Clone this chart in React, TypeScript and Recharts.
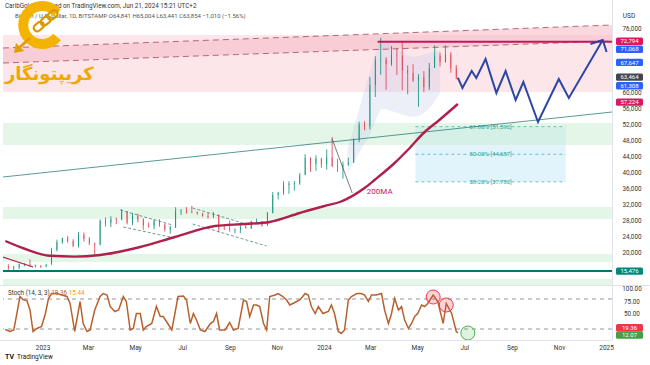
import React from 'react';
import {
  ComposedChart, Bar, Line, Area, XAxis, YAxis,
  ReferenceArea, ReferenceLine, ReferenceDot,
} from 'recharts';

const DAY0 = Date.parse('2023-01-01');
const toDay = (s: string) => Math.round((Date.parse(s) - DAY0) / 86400000);

// weekly BTC candles (week start)
const weeks = [
  '2022-11-14', '2022-11-21', '2022-11-28', '2022-12-05', '2022-12-12', '2022-12-19', '2022-12-26',
  '2023-01-02', '2023-01-09', '2023-01-16', '2023-01-23', '2023-01-30',
  '2023-02-06', '2023-02-13', '2023-02-20', '2023-02-27',
  '2023-03-06', '2023-03-13', '2023-03-20', '2023-03-27',
  '2023-04-03', '2023-04-10', '2023-04-17', '2023-04-24',
  '2023-05-01', '2023-05-08', '2023-05-15', '2023-05-22', '2023-05-29',
  '2023-06-05', '2023-06-12', '2023-06-19', '2023-06-26',
  '2023-07-03', '2023-07-10', '2023-07-17', '2023-07-24', '2023-07-31',
  '2023-08-07', '2023-08-14', '2023-08-21', '2023-08-28',
  '2023-09-04', '2023-09-11', '2023-09-18', '2023-09-25',
  '2023-10-02', '2023-10-09', '2023-10-16', '2023-10-23', '2023-10-30',
  '2023-11-06', '2023-11-13', '2023-11-20', '2023-11-27',
  '2023-12-04', '2023-12-11', '2023-12-18', '2023-12-25',
  '2024-01-01', '2024-01-08', '2024-01-15', '2024-01-22', '2024-01-29',
  '2024-02-05', '2024-02-12', '2024-02-19', '2024-02-26',
  '2024-03-04', '2024-03-11', '2024-03-18', '2024-03-25',
  '2024-04-01', '2024-04-08', '2024-04-15', '2024-04-22', '2024-04-29',
  '2024-05-06', '2024-05-13', '2024-05-20', '2024-05-27',
  '2024-06-03', '2024-06-10', '2024-06-17',
];
const firstOpen = 16600;
const closes = [
  16300, 16450, 17100, 17100, 16800, 16850, 16600,
  17100, 20800, 22700, 23750, 23000,
  21800, 24600, 23500, 22400,
  22100, 28000, 27500, 28500,
  28300, 30300, 27600, 29250,
  28400, 26900, 26750, 28050, 27100,
  25850, 26350, 30500, 30600,
  30300, 30250, 29900, 29250, 29050,
  29400, 26100, 26000, 25850,
  25850, 26550, 26250, 27950,
  27950, 26900, 30000, 34500, 35000,
  37050, 37350, 37450, 39450,
  43800, 42250, 43700, 42150,
  43900, 41700, 41600, 42050, 42600,
  48300, 52100, 51700, 62000,
  68300, 68400, 67200, 69650,
  69400, 65700, 64950, 63100, 63950,
  61500, 66250, 69300, 67750,
  69650, 66200, 63850,
];
const highs = [
  17200, 16800, 17350, 17450, 18400, 17100, 16950,
  17200, 21300, 23350, 23800, 24250,
  23450, 25250, 25100, 24000,
  22600, 28450, 28900, 29200,
  28800, 30950, 30500, 30000,
  29850, 28650, 27650, 28450, 28450,
  27400, 26800, 31450, 31000,
  31500, 31800, 30350, 30050, 29950,
  30250, 29700, 26800, 28150,
  26150, 26950, 27500, 28050,
  28600, 28000, 30250, 35250, 35300,
  37950, 37950, 38000, 40000,
  44750, 43900, 44450, 43800,
  45900, 49000, 43600, 42850, 43850,
  48600, 52850, 52950, 64000,
  69200, 73800, 68950, 71750,
  71300, 72800, 66900, 67200, 64750,
  65500, 67500, 71950, 70050,
  71950, 70200, 67000,
];
const lows = [
  15800, 15480, 16000, 16700, 16550, 16350, 16300,
  16500, 17100, 20400, 22300, 22550,
  21450, 21400, 22800, 21950,
  19550, 21900, 26600, 26500,
  27200, 28150, 27150, 26950,
  27650, 25800, 26350, 25900, 26550,
  25350, 24800, 26250, 29500,
  29800, 29950, 29550, 29050, 28600,
  28750, 25150, 25800, 25350,
  24900, 24950, 26050, 26000,
  27250, 26550, 26800, 29900, 33400,
  34550, 34800, 35600, 37050,
  39500, 40250, 40550, 41300,
  40800, 41500, 40300, 38550, 41850,
  42550, 47700, 50650, 50900,
  59000, 64550, 60800, 66800,
  64500, 60700, 59650, 62800, 56550,
  60200, 60750, 66300, 66650,
  67600, 65050, 63400,
];

// 200-day moving average (day offset from 2023-01-01)
const maDays = [-49, -23, 9, 41, 74, 126, 171, 223, 262, 294, 333, 365, 385, 417, 430, 456, 473, 495, 514, 538];
const maValues = [23000, 21000, 19300, 19100, 19500, 21500, 24000, 26750, 27250, 27750, 30000, 31750, 32750, 36250, 38250, 42500, 45750, 50250, 53250, 57250];

// projected path
const projDays = [538, 544, 556, 562, 574, 588, 600, 613, 623, 642, 669, 682, 726];
const projValues = [63850, 61250, 65500, 63750, 68500, 60000, 65500, 58250, 62750, 52750, 63500, 58750, 73250];
const arrowDays = [710, 726, 731];
const arrowValues = [72250, 73250, 70250];

// light blue shading behind the 2024 rally
const glowDays = [395, 410, 425, 440, 460, 480, 500, 515];
const glowLow = [40000, 45000, 50000, 56000, 55000, 54000, 56000, 60000];
const glowHigh = [46000, 56000, 66000, 73000, 71000, 69000, 70000, 70500];

// drawn lines
const edgeDays = [-52, 738];
const channelLow = [67500, 73000];
const channelHigh = [71250, 77000];
const trendValues = [39000, 55250];
const resistDays = [434, 738];
const resistValue = 72794;
const supportValue = 15476;
const oldLineDays = [-52, -13];
const oldLineValues = [19000, 16500];
const flagA = { days: [100, 168], top: [30750, 27000], lowDays: [104, 165], bottom: [26500, 24000] };
const flagB = { days: [194, 259], top: [31250, 27500], lowDays: [194, 290], bottom: [27250, 21750] };
const wedgeDays = [375, 401];
const wedgeValues = [48500, 35000];

// zones
const pinkZone = [60250, 74500];
const greenZones = [[47000, 52500], [28500, 31500], [17750, 19750], [12000, 13500]];
const fibDays = [483, 678];
const fibLevels = [51592, 44687, 37782];
const fibNames = ['61.80%', '50.00%', '38.20%'];

// axis ticks
const priceTicks = [76000, 60000, 56000, 52000, 48000, 44000, 40000, 36000, 32000, 28000, 24000, 20000];
const tagValues = [72794, 71068, 67647, 63464, 61308, 57224, 15476];
const tickDates = ['2023-01-01', '2023-03-01', '2023-05-01', '2023-07-01', '2023-09-01', '2023-11-01',
  '2024-01-01', '2024-03-01', '2024-05-01', '2024-07-01', '2024-09-01', '2024-11-01', '2025-01-01'];
const tickLabels = ['2023', 'Mar', 'May', 'Jul', 'Sep', 'Nov', '2024', 'Mar', 'May', 'Jul', 'Sep', 'Nov', '2025'];
const stochTicks = [100, 75, 50];

// stochastic (14,3,3)
const stochDays = [
  -49, -43, -38, -34, -30, -26, -21, -17, -13, -8, -2, 3, 7, 11, 18, 24, 31, 35, 41, 48,
  52, 57, 61, 67, 74, 78, 83, 87, 93, 98, 104, 108, 113, 117, 121, 126, 130, 134, 141, 147, 152,
  156, 160, 167, 171, 175, 182, 186, 191, 195, 199, 204, 210, 217, 221, 225, 229, 236, 242, 247, 253,
  260, 264, 268, 273, 277, 281, 286, 290, 294, 301, 305, 311, 316, 320, 324, 329, 333, 340, 344, 348,
  353, 357, 363,
  370, 374, 378, 383, 387, 391, 396, 400, 407, 413, 417, 422, 426, 432, 439, 443, 448, 452, 456, 461,
  465, 469, 474, 478, 482, 486, 491, 495, 499, 506, 512, 519, 523, 530, 536, 538,
];
const stochValues = [
  19, 15, 18, 51, 85, 79, 77, 58, 15, 21, 25, 51, 81, 91, 91, 88, 85, 71, 15, 75,
  31, 15, 18, 58, 85, 91, 88, 65, 55, 58, 85, 75, 18, 21, 51, 51, 18, 25, 31, 65, 45,
  45, 35, 18, 51, 85, 86, 78, 31, 51, 38, 18, 15, 31, 35, 51, 18, 18, 33, 18, 21,
  78, 75, 45, 68, 68, 65, 31, 18, 85, 88, 91, 85, 78, 68, 71, 75, 78, 91, 88, 65,
  51, 65, 51,
  55, 68, 51, 15, 11, 18, 78, 85, 91, 91, 88, 75, 88, 88, 91, 58, 31, 51, 81, 58,
  65, 38, 21, 31, 45, 51, 68, 65, 71, 88, 75, 31, 71, 51, 15, 12,
];
const stochK = 19.36;
const stochD = 12.07;
const peakDays = [506, 523];
const peakValues = [84, 68];
const dipDay = 551;
const dipValue = 12;

const fmt = (v: number) => v.toLocaleString('en-US');

const candles = weeks.map((w, i) => ({
  day: toDay(w) + 3,
  o: i === 0 ? firstOpen : closes[i - 1],
  h: highs[i],
  l: lows[i],
  c: closes[i],
  range: [lows[i], highs[i]],
}));
const pairs = (xs: number[], ys: number[]) => xs.map((d, i) => ({ day: d, v: ys[i] }));
const maData = pairs(maDays, maValues);
const projData = pairs(projDays, projValues);
const arrowData = pairs(arrowDays, arrowValues);
const glowData = glowDays.map((d, i) => ({ day: d, band: [glowLow[i], glowHigh[i]] }));
const channelData = edgeDays.map((d, i) => ({ day: d, lo: channelLow[i], hi: channelHigh[i], band: [channelLow[i], channelHigh[i]] }));
const trendData = pairs(edgeDays, trendValues);
const resistData = pairs(resistDays, [resistValue, resistValue]);
const oldLineData = pairs(oldLineDays, oldLineValues);
const stochData = pairs(stochDays, stochValues);
const tickDays = tickDates.map(toDay);

const tagColors = ['#d81b60', '#2962ff', '#2962ff', '#434651', '#2962ff', '#d81b60', '#00897b'];
const tagShift = [-0.5, 0.5, 0, -2, -2, -2, 0];

const Candle = (props: any) => {
  const { x, y, width, height, payload } = props;
  if (!payload) return null;
  const top = Math.min(y, y + height);
  const h = Math.abs(height);
  const span = payload.h - payload.l || 1;
  const py = (v: number) => top + ((payload.h - v) / span) * h;
  const up = payload.c >= payload.o;
  const col = up ? '#0b8f78' : '#e0394a';
  const cx = x + width / 2;
  const bt = py(Math.max(payload.o, payload.c));
  const bb = py(Math.min(payload.o, payload.c));
  return (
    <g>
      <line x1={cx} x2={cx} y1={top} y2={top + h} stroke={col} strokeWidth={0.8} />
      <rect x={x} y={bt} width={width} height={Math.max(0.8, bb - bt)} fill={col} />
    </g>
  );
};

const Tag = (props: any) => {
  const { viewBox, text, bg, dy = 0 } = props;
  if (!viewBox) return null;
  const x = viewBox.x + viewBox.width + 4;
  const y = viewBox.y + dy;
  return (
    <g>
      <rect x={x} y={y - 3.7} width={27} height={7.4} rx={1.5} fill={bg} />
      <text x={x + 13.5} y={y + 2.1} textAnchor="middle" fontSize={6} fill="#fff" fontFamily="Roboto">{text}</text>
    </g>
  );
};

const FibLabel = (props: any) => {
  const { viewBox, text } = props;
  if (!viewBox) return null;
  const cx = viewBox.x + viewBox.width / 2;
  return (
    <text x={cx} y={viewBox.y + 2.2} textAnchor="middle" fontSize={6} fill="#26a69a" fontFamily="Roboto">{text}</text>
  );
};

const PriceTick = (props: any) => (
  <text x={632} y={props.y + 2.3} textAnchor="middle" fontSize={6.3} fill="#333" fontFamily="Roboto">
    {fmt(props.payload.value)}
  </text>
);
const StochTick = (props: any) => (
  <text x={632} y={props.y + 2.3} textAnchor="middle" fontSize={6.3} fill="#333" fontFamily="Roboto">
    {props.payload.value.toFixed(2)}
  </text>
);
const TimeTick = (props: any) => {
  const i = tickDays.indexOf(props.payload.value);
  return (
    <text x={props.x} y={65} textAnchor="middle" fontSize={6.5} fill="#333" fontFamily="Roboto">
      {tickLabels[i]}
    </text>
  );
};

const MaLabel = (props: any) => (
  <text x={props.cx} y={props.cy} fontSize={8} fill="#c2185b" fontFamily="Roboto">200MA</text>
);

export default function App() {
  const xDomain: [number, number] = [-52, 738];
  return (
    <div style={{ position: 'absolute', left: 0, top: 0, width: 650, height: 365, background: '#fff', overflow: 'hidden' }}>
      <div style={{ position: 'absolute', left: 0, top: 0 }}>
        <ComposedChart width={650} height={285} data={candles} margin={{ top: 5, right: 0, bottom: 0, left: 3 }}>
          <XAxis type="number" dataKey="day" domain={xDomain} hide allowDataOverflow />
          <YAxis orientation="right" type="number" domain={[12000, 82000]} ticks={priceTicks} interval={0}
            width={38} axisLine={false} tickLine={false} tick={<PriceTick />} allowDataOverflow />
          <ReferenceArea y1={pinkZone[0]} y2={pinkZone[1]} fill="#fde6ea" fillOpacity={1} />
          <ReferenceArea x1={fibDays[0]} x2={fibDays[1]} y1={fibLevels[2]} y2={fibLevels[0]} fill="#e1f4fc" fillOpacity={1} />
          {greenZones.map((z, i) => (
            <ReferenceArea key={i} y1={z[0]} y2={z[1]} fill="#c9edd1" fillOpacity={0.5} />
          ))}
          <Area data={channelData} dataKey="band" type="linear" fill="#f6b8c2" fillOpacity={0.55} stroke="none" isAnimationActive={false} />
          <Line data={channelData} dataKey="hi" type="linear" stroke="#a34a5a" strokeWidth={0.8} strokeDasharray="6 4" dot={false} isAnimationActive={false} />
          <Line data={channelData} dataKey="lo" type="linear" stroke="#a34a5a" strokeWidth={0.8} strokeDasharray="6 4" dot={false} isAnimationActive={false} />
          <Area data={glowData} dataKey="band" type="monotone" fill="#c5cae9" fillOpacity={0.3} stroke="none" isAnimationActive={false} />
          {fibLevels.map((v, i) => (
            <ReferenceLine key={i} segment={[{ x: fibDays[0], y: v }, { x: fibDays[1], y: v }]} stroke="#4db6ac" strokeDasharray="3 3" strokeWidth={0.8}
              label={<FibLabel text={`${fibNames[i]} [${fmt(v)}]`} />} />
          ))}
          <Line data={trendData} dataKey="v" type="linear" stroke="#2f7f80" strokeWidth={0.8} dot={false} isAnimationActive={false} />
          <Line data={pairs(flagA.days, flagA.top)} dataKey="v" stroke="#37706f" strokeWidth={0.7} strokeDasharray="3 2" dot={false} isAnimationActive={false} />
          <Line data={pairs(flagA.lowDays, flagA.bottom)} dataKey="v" stroke="#37706f" strokeWidth={0.7} strokeDasharray="3 2" dot={false} isAnimationActive={false} />
          <Line data={pairs(flagB.days, flagB.top)} dataKey="v" stroke="#37706f" strokeWidth={0.7} strokeDasharray="3 2" dot={false} isAnimationActive={false} />
          <Line data={pairs(flagB.lowDays, flagB.bottom)} dataKey="v" stroke="#37706f" strokeWidth={0.7} strokeDasharray="3 2" dot={false} isAnimationActive={false} />
          <Line data={pairs(wedgeDays, wedgeValues)} dataKey="v" stroke="#37474f" strokeWidth={0.7} dot={false} isAnimationActive={false} />
          <ReferenceLine y={supportValue} stroke="#00796b" strokeWidth={2} />
          <Line data={oldLineData} dataKey="v" stroke="#b5234f" strokeWidth={1.2} dot={false} isAnimationActive={false} />
          <Bar dataKey="range" barSize={2.6} shape={<Candle />} isAnimationActive={false} />
          <Line data={maData} dataKey="v" type="monotone" stroke="#b0204c" strokeWidth={2.4} dot={false} isAnimationActive={false} />
          <Line data={resistData} dataKey="v" type="linear" stroke="#c2185b" strokeWidth={2} dot={false} isAnimationActive={false} />
          <Line data={projData} dataKey="v" type="linear" stroke="#2c46a6" strokeWidth={2} dot={false} isAnimationActive={false} />
          <Line data={arrowData} dataKey="v" type="linear" stroke="#2c46a6" strokeWidth={2} dot={false} isAnimationActive={false} />
          <ReferenceDot x={420} y={34750} r={0} shape={<MaLabel />} />
          {tagValues.map((v, i) => (
            <ReferenceLine key={`t${i}`} y={v} stroke="none" label={<Tag text={fmt(v)} bg={tagColors[i]} dy={tagShift[i]} />} />
          ))}
        </ComposedChart>
      </div>
      <div style={{ position: 'absolute', left: 0, top: 285 }}>
        <ComposedChart width={650} height={80} margin={{ top: 0, right: 0, bottom: 0, left: 3 }}>
          <XAxis type="number" dataKey="day" domain={xDomain} ticks={tickDays} interval={0} tick={<TimeTick />}
            axisLine={false} tickLine={false} height={25} allowDataOverflow />
          <YAxis orientation="right" type="number" domain={[-2, 108]} ticks={stochTicks} interval={0}
            width={38} axisLine={false} tickLine={false} tick={<StochTick />} />
          <ReferenceLine y={80} stroke="#787b86" strokeDasharray="4 4" strokeWidth={0.8} />
          <ReferenceLine y={20} stroke="#787b86" strokeDasharray="4 4" strokeWidth={0.8} />
          <Line data={stochData} dataKey="v" type="linear" stroke="#b8612f" strokeWidth={1.5} dot={false} isAnimationActive={false} />
          {peakDays.map((d, i) => (
            <ReferenceDot key={i} x={d} y={peakValues[i]} r={7} fill="#f23645" fillOpacity={0.22} stroke="#f23645" strokeWidth={1} />
          ))}
          <ReferenceDot x={dipDay} y={dipValue} r={7} fill="#4caf50" fillOpacity={0.18} stroke="#4caf50" strokeWidth={1} />
          <ReferenceLine y={stochK} stroke="none" label={<Tag text={stochK.toFixed(2)} bg="#f23645" dy={-1.5} />} />
          <ReferenceLine y={stochD} stroke="none" label={<Tag text={stochD.toFixed(2)} bg="#43a047" dy={2} />} />
        </ComposedChart>
      </div>
      <svg width={650} height={365} style={{ position: 'absolute', left: 0, top: 0, pointerEvents: 'none' }}>
        <line x1={612.5} x2={612.5} y1={0} y2={340} stroke="#e0e3eb" />
        <line x1={0} x2={650} y1={285.5} y2={285.5} stroke="#e0e3eb" />
        <line x1={0} x2={612} y1={340.5} y2={340.5} stroke="#e0e3eb" />
        <text x={5} y={8} fontSize={6.3} fill="#333" fontFamily="Roboto">CaribGold published on TradingView.com, Jun 21, 2024 15:21 UTC+2</text>
        <text x={15} y={18} fontSize={6} fill="#555" fontFamily="Roboto">Bitcoin / U.S. Dollar, 1D, BITSTAMP  O64,841 H65,004 L63,441 C63,854 −1,010 (−1.56%)</text>
        <text x={629} y={18} textAnchor="middle" fontSize={6.5} fill="#333" fontFamily="Roboto">USD</text>
        <path d="M 57 13 A 19 19 0 1 0 57 37" stroke="#f5b301" strokeWidth={10} fill="none" />
        <g transform="rotate(-40 43 23)">
          <rect x={32} y={19.5} width={11} height={7} rx={3.5} fill="none" stroke="#d99a00" strokeWidth={2.2} />
          <rect x={41} y={19.5} width={11} height={7} rx={3.5} fill="none" stroke="#d99a00" strokeWidth={2.2} />
          <rect x={50} y={19.5} width={11} height={7} rx={3.5} fill="none" stroke="#d99a00" strokeWidth={2.2} />
        </g>
        <line x1={30} y1={38} x2={19} y2={48} stroke="#e0a000" strokeWidth={3} />
        <path d="M 14 53 L 16 43 L 24 51 Z" fill="#e0a000" />
        <text x={5} y={80} fontSize={18} fontWeight="bold" fill="#f0a800" fontFamily="DejaVu Sans">کریپتونگار</text>
        <text x={8} y={295} fontSize={6.3} fill="#333" fontFamily="Roboto">
          Stoch (14, 3, 3) <tspan fill="#b8612f">19.36</tspan> <tspan fill="#ff9800">15.44</tspan>
        </text>
        <text x={5} y={359} fontSize={7} fontWeight="bold" fill="#131722" fontFamily="Roboto">TV</text>
        <text x={17} y={359} fontSize={6.5} fill="#131722" fontFamily="Roboto">TradingView</text>
      </svg>
    </div>
  );
}
